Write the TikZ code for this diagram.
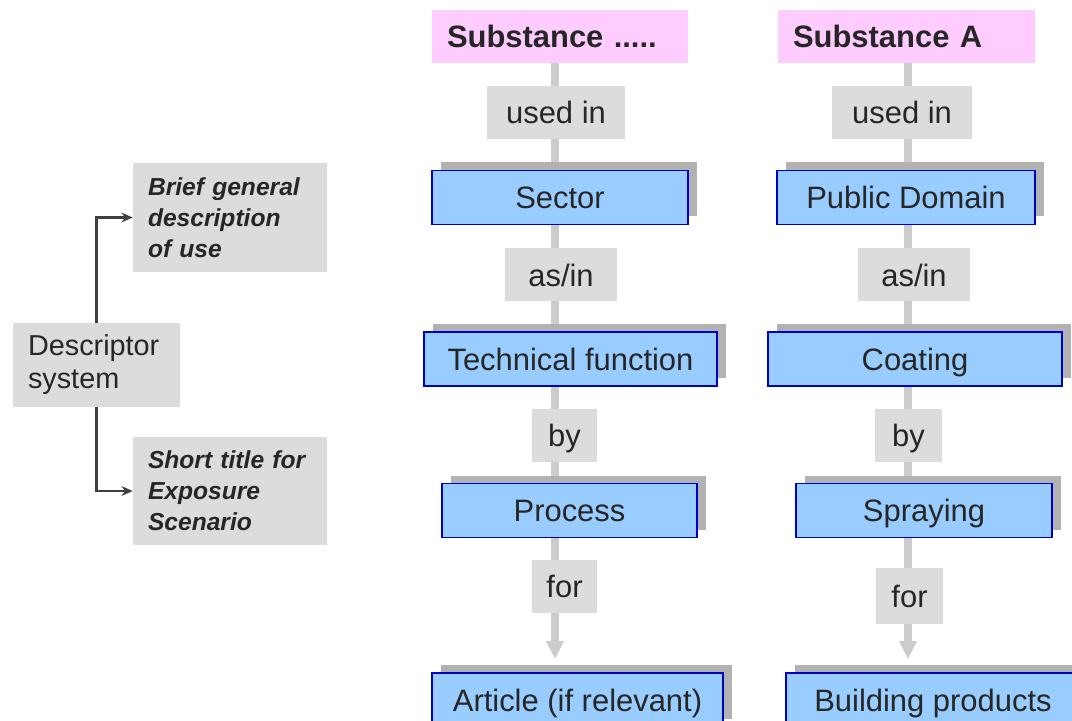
\documentclass[tikz,border=0pt]{standalone}
\usepackage{fontspec}
\setmainfont{Liberation Sans}
\usetikzlibrary{arrows.meta,positioning,shadows,backgrounds}

\definecolor{substpink}{HTML}{FFCCFF}
\definecolor{stageblue}{HTML}{99CCFF}
\definecolor{stageedge}{HTML}{0000CC}
\definecolor{labelgrey}{HTML}{DCDCDC}
\newcommand{\unitpx}{0.025cm}

\begin{document}
\begin{tikzpicture}[x=0.025cm, y=-0.025cm]
\tikzstyle{every node}=[inner sep=0pt, text=black!85]
\tikzstyle{subst}=[fill=substpink, minimum height=53*\unitpx, inner xsep=15*\unitpx, align=left, font=\fontsize{22}{26}\selectfont\bfseries]
\tikzstyle{stage}=[fill=stageblue, draw=stageedge, line width=1.4pt, minimum height=54*\unitpx, text height=18pt, text depth=2.3pt,
  font=\fontsize{22}{26}\selectfont, general shadow={fill=gray!60, shadow xshift=9*\unitpx, shadow yshift=8*\unitpx}]
\tikzstyle{link}=[fill=labelgrey, minimum height=53*\unitpx, text height=18pt, text depth=2.3pt, font=\fontsize{22}{26}\selectfont]
\tikzstyle{note}=[fill=labelgrey, inner xsep=15*\unitpx, align=left]
\tikzstyle{flow}=[draw=gray!40, line width=8*\unitpx]
\tikzstyle{branch}=[-{Stealth[length=8pt,width=7pt]}, draw=black!75, line width=1.6pt]

\useasboundingbox (0,0) rectangle (1072,721);

% descriptor system
\node[note, minimum width=167*\unitpx, minimum height=84*\unitpx, text width=137*\unitpx,
  font=\fontsize{20.5}{23.5}\selectfont] (desc) at (96.5,365) {Descriptor\\system};
\node[note, minimum height=109*\unitpx, text width=164*\unitpx,
  font=\fontsize{17.5}{22}\selectfont\bfseries\itshape] (brief) at (230,217.5) {Brief general\\description\\of use};
\node[note, minimum height=108*\unitpx, text width=164*\unitpx,
  font=\fontsize{17.5}{22}\selectfont\bfseries\itshape] (short) at (230,491) {Short title for\\Exposure\\Scenario};
\draw[branch] (desc.north) |- (brief.west);
\draw[branch] (desc.south) |- (short.west);

% generic chain
\coordinate (col1) at (555,0);
\node[subst, text width=226*\unitpx] (subst1) at (560,36.5) {Substance .....};
\node[link, minimum width=138*\unitpx] (used1) at (556,112.5) {used in};
\node[stage, minimum width=256*\unitpx] (sector) at (560,197.5) {Sector};
\node[link, minimum width=112*\unitpx] (asin1) at (561,275) {as/in};
\node[stage, minimum width=293*\unitpx] (func) at (570.5,359) {Technical function};
\node[link, minimum width=65*\unitpx] (by1) at (564.5,435.5) {by};
\node[stage, minimum width=255*\unitpx] (process) at (569.5,510.5) {Process};
\node[link, minimum width=65*\unitpx] (for1) at (564.5,586.5) {for};
\node[stage, minimum width=291*\unitpx] (article) at (577.5,700) {Article (if relevant)};

% example chain
\coordinate (col2) at (908,0);
\node[subst, text width=227*\unitpx] (subst2) at (906.5,36.5) {Substance A};
\node[link, minimum width=140*\unitpx] (used2) at (902,112.5) {used in};
\node[stage, minimum width=258*\unitpx] (domain) at (906,197.5) {Public Domain};
\node[link, minimum width=112*\unitpx] (asin2) at (914,275) {as/in};
\node[stage, minimum width=294*\unitpx] (coating) at (915,359) {Coating};
\node[link, minimum width=67*\unitpx] (by2) at (908.5,435.5) {by};
\node[stage, minimum width=256*\unitpx] (spraying) at (924,510.5) {Spraying};
\node[link, minimum width=67*\unitpx, minimum height=56*\unitpx] (for2) at (909.5,596) {for};
\node[stage, minimum width=294*\unitpx] (building) at (933,700) {Building products};

\begin{scope}[on background layer]
\draw[flow, -{Triangle[width=0.42cm,length=0.45cm]}, shorten >=13*\unitpx]
  (subst1.south -| col1) -- (article.north -| col1);
\draw[flow, -{Triangle[width=0.42cm,length=0.45cm]}, shorten >=13*\unitpx]
  (subst2.south -| col2) -- (building.north -| col2);
\end{scope}
\end{tikzpicture}
\end{document}
